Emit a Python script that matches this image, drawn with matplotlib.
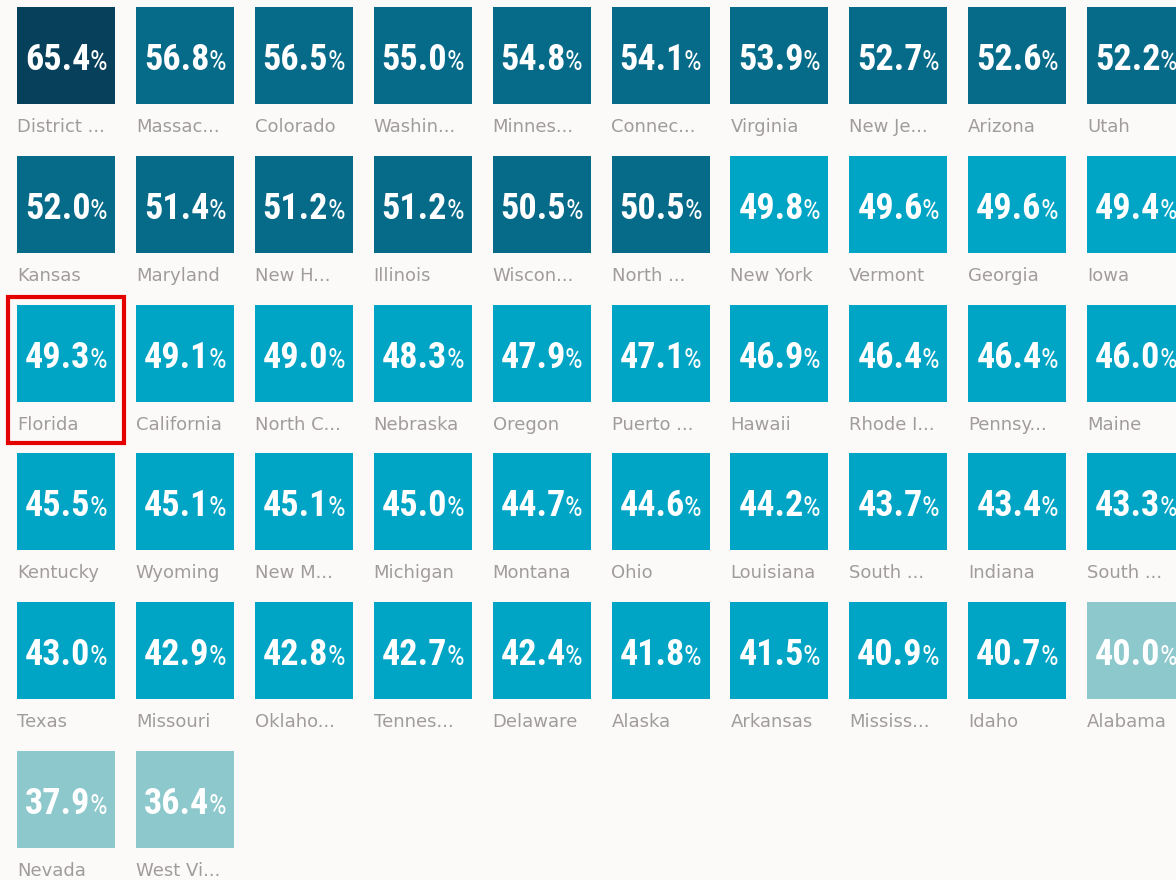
import matplotlib
matplotlib.use("Agg")
import matplotlib.pyplot as plt
from matplotlib.patches import Rectangle

# tile labels (truncated like the original) and values, in reading order
labels = ["District ...", "Massac...", "Colorado", "Washin...", "Minnes...",
          "Connec...", "Virginia", "New Je...", "Arizona", "Utah",
          "Kansas", "Maryland", "New H...", "Illinois", "Wiscon...",
          "North ...", "New York", "Vermont", "Georgia", "Iowa",
          "Florida", "California", "North C...", "Nebraska", "Oregon",
          "Puerto ...", "Hawaii", "Rhode I...", "Pennsy...", "Maine",
          "Kentucky", "Wyoming", "New M...", "Michigan", "Montana",
          "Ohio", "Louisiana", "South ...", "Indiana", "South ...",
          "Texas", "Missouri", "Oklaho...", "Tennes...", "Delaware",
          "Alaska", "Arkansas", "Mississ...", "Idaho", "Alabama",
          "Nevada", "West Vi..."]
values = [65.4, 56.8, 56.5, 55.0, 54.8, 54.1, 53.9, 52.7, 52.6, 52.2,
          52.0, 51.4, 51.2, 51.2, 50.5, 50.5, 49.8, 49.6, 49.6, 49.4,
          49.3, 49.1, 49.0, 48.3, 47.9, 47.1, 46.9, 46.4, 46.4, 46.0,
          45.5, 45.1, 45.1, 45.0, 44.7, 44.6, 44.2, 43.7, 43.4, 43.3,
          43.0, 42.9, 42.8, 42.7, 42.4, 41.8, 41.5, 40.9, 40.7, 40.0,
          37.9, 36.4]
highlight = "Florida"

ncols = 10
step_x, step_y = 118.9, 148.8
tile_w, tile_h = 98, 97
x_start, y_start = 17, 7
bg = "#fcfaf9"


def tile_color(v):
    if v >= 60:
        return "#07405b"
    if v >= 50:
        return "#066a89"
    if v > 40:
        return "#00a5c6"
    return "#8cc8cc"


fig = plt.figure(figsize=(11.76, 8.8), dpi=100, facecolor=bg)
ax = fig.add_axes([0, 0, 1, 1])
ax.set_xlim(0, 1176)
ax.set_ylim(880, 0)
ax.axis("off")
ax.set_facecolor(bg)

num_font = ["Roboto Condensed", "DejaVu Sans"]
fig.canvas.draw()
renderer = fig.canvas.get_renderer()

for i, (lab, v) in enumerate(zip(labels, values)):
    r, c = divmod(i, ncols)
    x0 = x_start + c * step_x
    y0 = y_start + r * step_y
    ax.add_patch(Rectangle((x0, y0), tile_w, tile_h, facecolor=tile_color(v),
                           edgecolor="none"))
    cx = x0 + tile_w / 2
    base = y0 + 63
    t1 = ax.text(cx, base, f"{v:.1f}", color="white", fontsize=26,
                 fontweight="bold", family=num_font, fontstretch="condensed",
                 ha="right", va="baseline")
    t2 = ax.text(cx, base, "%", color="white", fontsize=20,
                 family=num_font, fontstretch="condensed",
                 ha="left", va="baseline")
    w1 = t1.get_window_extent(renderer).width
    w2 = t2.get_window_extent(renderer).width
    gap = -1
    left = cx - (w1 + w2 + gap) / 2
    t1.set_x(left + w1)
    t2.set_x(left + w1 + gap)
    ax.text(x0, y0 + 120, lab, color="#a09c9c", fontsize=13,
            family="DejaVu Sans", ha="left", va="center")
    if lab == highlight:
        ax.add_patch(Rectangle((x0 - 9, y0 - 8), tile_w + 18, 146,
                               facecolor="none", edgecolor="#e50000",
                               linewidth=3))

fig.savefig("out.png", dpi=100, facecolor=bg)
